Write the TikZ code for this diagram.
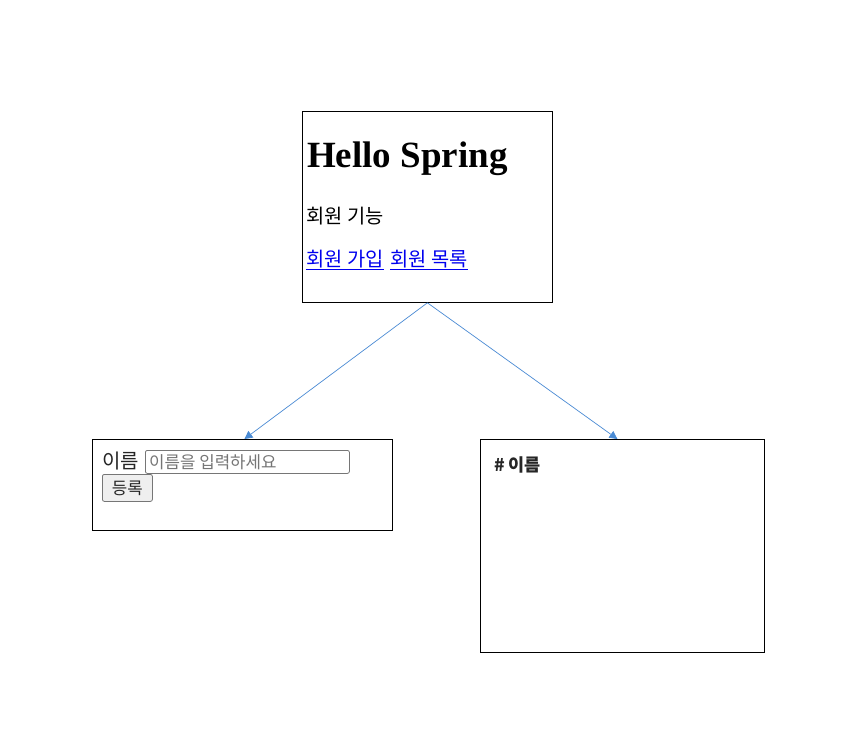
\documentclass[tikz,border=0pt]{standalone}
\usepackage{fontspec}
\setmainfont{Liberation Serif}
\newfontfamily\kr{Noto Sans CJK KR}
\usetikzlibrary{arrows.meta,calc}
\definecolor{arrowblue}{HTML}{4A8BD4}
\definecolor{linkblue}{HTML}{0000EE}
\definecolor{ctrlgray}{HTML}{767676}
\definecolor{btnfill}{HTML}{EFEFEF}
\definecolor{phgray}{HTML}{757575}
\begin{document}
\begin{tikzpicture}[x=1pt,y=-1pt,
  panel/.style={draw=black,line width=0.8pt,fill=white,inner sep=0,anchor=north west},
  txt/.style={inner sep=0,anchor=base west},
  conn/.style={draw=arrowblue,line width=0.7pt,-{Triangle[length=8pt,width=8pt]}},
  inputbox/.style={draw=ctrlgray,line width=0.8pt,rounded corners=2pt,inner sep=0,anchor=north west},
  btn/.style={draw=ctrlgray,fill=btnfill,line width=0.8pt,rounded corners=2pt,inner sep=0,anchor=north west}]
\useasboundingbox[fill=white] (0,0) rectangle (854,755);
% panels
\node[panel,minimum width=250pt,minimum height=191pt] (top) at (302,111) {};
\node[panel,minimum width=300pt,minimum height=91pt] (bl) at (92,439) {};
\node[panel,minimum width=284pt,minimum height=213pt] (br) at (480,439) {};
% top panel content
\node[txt,font=\bfseries\fontsize{37}{40}\selectfont] (title) at (307,167) {Hello Spring};
\node[txt,font=\kr\fontsize{19.8}{22}\selectfont] (sub) at (306,223) {회원 기능};
\node[txt,font=\kr\fontsize{19.8}{22}\selectfont,text=linkblue] (link1) at (306,266) {\underline{회원 가입}};
\node[txt,font=\kr\fontsize{19.8}{22}\selectfont,text=linkblue] (link2) at (390,266) {\underline{회원 목록}};
% bottom-left content
\node[txt,font=\kr\fontsize{20}{22}\selectfont,text=black!85] (lbl) at (102,468) {이름};
\node[inputbox,minimum width=204pt,minimum height=23pt] (input) at (145,450) {};
\node[txt,font=\kr\fontsize{16.8}{18}\selectfont,text=phgray] (ph) at (149,468) {이름을 입력하세요};
\node[btn,minimum width=50pt,minimum height=27pt] (btn) at (102,474) {};
\node[font=\kr\fontsize{16.8}{18}\selectfont,inner sep=0,text=black!85] (btntxt) at (btn.center) {등록};
% bottom-right content
\node[txt,font=\kr\bfseries\fontsize{17.5}{20}\selectfont,text=black!85] (hdr) at (494,471) {\# 이름};
% connectors
\draw[conn] (top.south) -- ([xshift=2pt]bl.north);
\draw[conn] (top.south) -- ([xshift=-5pt]br.north);
\end{tikzpicture}
\end{document}
